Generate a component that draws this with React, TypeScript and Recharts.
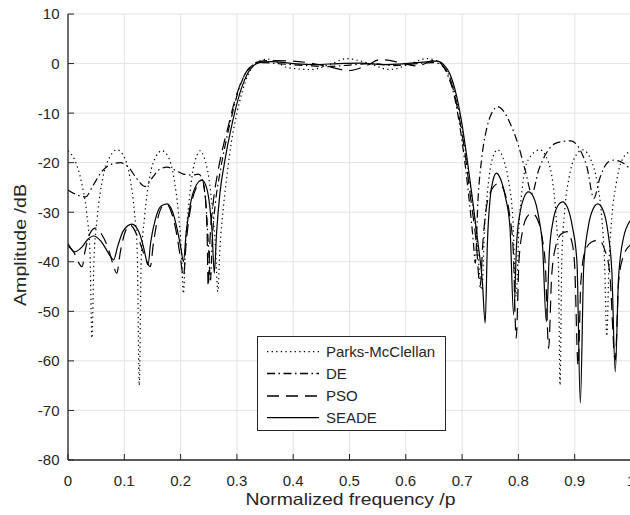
import React from 'react';
import { LineChart, Line, XAxis, YAxis, CartesianGrid, Legend } from 'recharts';

const freqTicks = [0, 0.1, 0.2, 0.3, 0.4, 0.5, 0.6, 0.7, 0.8, 0.9, 1];
const ampTicks = [-80, -70, -60, -50, -40, -30, -20, -10, 0, 10];

// [normalized frequency, amplitude dB]
const parksMcClellan: [number, number][] = [
  [0, -17.6], [0.012, -19.5], [0.024, -24], [0.033, -30], [0.039, -38], [0.0425, -55.4],
  [0.046, -40], [0.052, -31], [0.062, -23], [0.075, -18.7], [0.087, -17.4], [0.099, -18.7],
  [0.11, -23], [0.118, -30], [0.123, -38], [0.1266, -64.9], [0.13, -40], [0.136, -31],
  [0.145, -23], [0.156, -18.8], [0.167, -17.6], [0.178, -18.8], [0.188, -23], [0.196, -30],
  [0.201, -37], [0.205, -46.4], [0.209, -36], [0.215, -28], [0.222, -21.5], [0.229, -18.5],
  [0.235, -17.6], [0.242, -19], [0.25, -23], [0.257, -30], [0.262, -37], [0.266, -46],
  [0.27, -37], [0.276, -29], [0.283, -22], [0.29, -16], [0.3, -10], [0.31, -5.5],
  [0.32, -2.2], [0.33, -0.3], [0.34, 0.5], [0.355, 0.9], [0.37, 0.3], [0.39, -0.8],
  [0.43, -1.2], [0.465, -0.2], [0.495, 1.0], [0.53, 0.2], [0.572, -1.2], [0.605, -0.2],
  [0.637, 1.0], [0.655, 0.6], [0.665, -0.3], [0.675, -2], [0.685, -5], [0.695, -10],
  [0.705, -17], [0.715, -25], [0.725, -34], [0.735, -45.7], [0.74, -33], [0.745, -26],
  [0.752, -20], [0.763, -17.4], [0.774, -19.5], [0.783, -24], [0.79, -31], [0.796, -47],
  [0.801, -33], [0.807, -25], [0.817, -19.5], [0.838, -17.4], [0.852, -19.5], [0.861, -24],
  [0.867, -31], [0.871, -40], [0.874, -64.9], [0.877, -40], [0.882, -30], [0.89, -23],
  [0.9, -19], [0.914, -17.4], [0.929, -19.5], [0.94, -24], [0.948, -31], [0.953, -40],
  [0.957, -55], [0.961, -40], [0.966, -31], [0.974, -24], [0.984, -19.5], [1, -17.6],
];

const de: [number, number][] = [
  [0, -25.5], [0.012, -26.3], [0.031, -26.9], [0.045, -24.5], [0.06, -21.8], [0.075, -20.4],
  [0.093, -20.0], [0.108, -21], [0.122, -23.2], [0.137, -24.8], [0.15, -23], [0.163, -21.3],
  [0.176, -20.9], [0.19, -21.5], [0.205, -22.3], [0.22, -22.5], [0.232, -22.3], [0.24, -24],
  [0.246, -30], [0.25, -38], [0.253, -44], [0.256, -36], [0.262, -28], [0.27, -22],
  [0.28, -16], [0.29, -11], [0.3, -6.5], [0.31, -3.2], [0.32, -1.2], [0.33, -0.2],
  [0.345, 0.2], [0.37, 0], [0.42, -0.4], [0.46, -0.6], [0.5, -0.3], [0.54, 0],
  [0.58, -0.4], [0.62, 0], [0.65, 0.2], [0.665, -0.5], [0.675, -2.5], [0.685, -6],
  [0.695, -12], [0.705, -20], [0.713, -28], [0.72, -36], [0.7234, -40.3], [0.728, -28],
  [0.735, -19], [0.745, -12.5], [0.755, -9.5], [0.763, -8.7], [0.773, -9.5], [0.785, -12],
  [0.8, -16.5], [0.812, -21.5], [0.824, -26.2], [0.836, -21.5], [0.85, -18], [0.868, -16],
  [0.893, -15.6], [0.91, -17.5], [0.922, -21], [0.934, -27.2], [0.945, -23], [0.958, -20],
  [0.969, -19.5], [0.985, -20], [1, -21.5],
];

const pso: [number, number][] = [
  [0, -36.8], [0.01, -38], [0.018, -40], [0.025, -41], [0.03, -38], [0.038, -34.5],
  [0.0485, -33.2], [0.06, -34.5], [0.072, -37.5], [0.08, -40.5], [0.0866, -42.3], [0.093, -38],
  [0.1, -34.5], [0.1106, -32.6], [0.122, -34.5], [0.132, -37.5], [0.14, -40], [0.146, -41],
  [0.152, -36], [0.16, -31], [0.168, -28.8], [0.176, -28.5], [0.185, -30.5], [0.194, -35],
  [0.2, -39.5], [0.205, -43], [0.21, -36], [0.218, -29], [0.228, -25], [0.238, -23.5],
  [0.243, -26], [0.247, -34], [0.249, -45], [0.252, -36], [0.258, -28], [0.266, -22],
  [0.275, -17], [0.285, -12.5], [0.295, -8], [0.305, -4.5], [0.315, -2], [0.325, -0.5],
  [0.34, 0.4], [0.36, 0.6], [0.4, 0.5], [0.45, -0.3], [0.5, -1.4], [0.53, -0.4],
  [0.555, 0.8], [0.59, 0.2], [0.62, -0.5], [0.65, 0.6], [0.665, -0.3], [0.675, -2],
  [0.685, -5.5], [0.695, -11], [0.705, -18], [0.715, -27], [0.725, -36], [0.732, -45],
  [0.737, -36], [0.742, -30], [0.75, -26], [0.765, -24.2], [0.777, -26.5], [0.785, -31],
  [0.791, -38], [0.796, -55.4], [0.801, -40], [0.807, -34], [0.815, -31], [0.824, -30.2],
  [0.834, -31.5], [0.842, -35], [0.848, -41], [0.8537, -57.5], [0.859, -43], [0.866, -37],
  [0.875, -34.5], [0.886, -33.9], [0.895, -36], [0.9, -41], [0.906, -61], [0.911, -44],
  [0.918, -38], [0.93, -36], [0.9425, -35.6], [0.953, -37.5], [0.962, -42], [0.972, -59.8],
  [0.978, -44], [0.986, -39], [1, -36.5],
];

const seade: [number, number][] = [
  [0, -36.3], [0.012, -38], [0.025, -37], [0.035, -35.5], [0.0455, -34.8], [0.058, -35.8],
  [0.068, -37.5], [0.076, -39], [0.081, -39.6], [0.088, -37], [0.098, -33.8], [0.1137, -32.4],
  [0.126, -34], [0.134, -37], [0.139, -39.5], [0.142, -40.6], [0.147, -36], [0.155, -31.5],
  [0.165, -28.8], [0.176, -28.3], [0.186, -30], [0.195, -34], [0.201, -37.5], [0.205, -40],
  [0.21, -34], [0.218, -28], [0.228, -24.5], [0.238, -23.5], [0.246, -25], [0.252, -29],
  [0.256, -34], [0.2598, -42.3], [0.264, -34], [0.27, -26], [0.278, -20], [0.288, -14],
  [0.298, -9], [0.308, -5], [0.318, -2.2], [0.328, -0.6], [0.34, 0.2], [0.36, 0.4],
  [0.4, 0], [0.44, -0.2], [0.48, 0], [0.52, 0.1], [0.56, -0.2], [0.6, 0],
  [0.64, 0.4], [0.655, 0.5], [0.668, -0.3], [0.678, -2], [0.688, -5.5], [0.698, -11],
  [0.708, -18.5], [0.718, -27], [0.728, -36], [0.736, -44], [0.741, -52.4], [0.745, -36],
  [0.75, -27], [0.755, -23.5], [0.761, -22.1], [0.769, -23.5], [0.777, -27], [0.785, -33],
  [0.7915, -50.7], [0.797, -36], [0.803, -30], [0.81, -27], [0.818, -25.9], [0.827, -27],
  [0.836, -31], [0.843, -37], [0.8496, -52.1], [0.855, -38], [0.862, -31.5], [0.87, -28.7],
  [0.8785, -27.9], [0.887, -29], [0.896, -33], [0.904, -40], [0.91, -68.5], [0.916, -41],
  [0.924, -33], [0.932, -29.5], [0.941, -28.3], [0.95, -29.5], [0.959, -34], [0.966, -42],
  [0.972, -62.2], [0.978, -43], [0.987, -35], [1, -31.5],
];

const toPoints = (arr: [number, number][]) => arr.map(([f, v]) => ({ f, v }));

const series = [
  { name: 'Parks-McClellan', data: toPoints(parksMcClellan), dash: '1.3 3.3' },
  { name: 'DE', data: toPoints(de), dash: '8 3.5 1.5 3.5' },
  { name: 'PSO', data: toPoints(pso), dash: '12 7' },
  { name: 'SEADE', data: toPoints(seade), dash: undefined as string | undefined },
];

const FONT = '"Liberation Sans", Arial, Helvetica, sans-serif';
const TEXT = '#262626';
const AXIS = '#262626';

const XTick = (props: any) => {
  const { x, y, payload } = props;
  return (
    <g>
      <line x1={x} x2={x} y1={y} y2={y - 6} stroke={AXIS} strokeWidth={1} />
      <text x={x} y={y + 15.5} dy="0.71em" textAnchor="middle" fontFamily={FONT} fontSize={15} fill={TEXT}>
        {payload.value}
      </text>
    </g>
  );
};

const YTick = (props: any) => {
  const { x, y, payload } = props;
  return (
    <g>
      <line x1={x} x2={x + 6} y1={y} y2={y} stroke={AXIS} strokeWidth={1} />
      <text x={x - 8.5} y={y} dy="0.36em" textAnchor="end" fontFamily={FONT} fontSize={15} fill={TEXT}>
        {payload.value}
      </text>
    </g>
  );
};

const XLabel = (props: any) => {
  const vb = props.viewBox || { x: 68, y: 460, width: 563, height: 55 };
  const cx = vb.x + vb.width / 2 + 1;
  return (
    <text x={cx} y={505} textAnchor="middle" fontFamily={FONT} fontSize={16.5} fill={TEXT}
      textLength={210} lengthAdjust="spacingAndGlyphs">
      Normalized frequency /p
    </text>
  );
};

const YLabel = () => {
  const cx = 26;
  const cy = 245;
  return (
    <text x={0} y={0} transform={`translate(${cx},${cy}) rotate(-90)`} textAnchor="middle"
      fontFamily={FONT} fontSize={16.5} fill={TEXT} textLength={122} lengthAdjust="spacingAndGlyphs">
      Amplitude /dB
    </text>
  );
};

const renderLegend = () => {
  const rows = [15.7, 37.5, 60, 81.7];
  return (
    <svg width={189} height={95} style={{ display: 'block' }}>
      <rect x={0.5} y={0.5} width={188} height={94} fill="#fff" stroke={AXIS} strokeWidth={1} />
      {series.map((s, i) => (
        <g key={s.name}>
          <line x1={10} x2={62} y1={rows[i]} y2={rows[i]} stroke="#000" strokeWidth={1.3}
            strokeDasharray={s.dash} />
          <text x={69} y={rows[i]} dy="0.36em" fontFamily={FONT} fontSize={15} fill={TEXT}>
            {s.name}
          </text>
        </g>
      ))}
    </svg>
  );
};

export default function App() {
  return (
    <div style={{ position: 'fixed', left: 0, top: 0, width: 630, height: 515, overflow: 'hidden', background: '#fff' }}>
      <LineChart width={640} height={515} margin={{ top: 14, right: 9, bottom: 0, left: 0 }}>
        <CartesianGrid stroke="#e3e3e3" strokeWidth={1} />
        <XAxis
          dataKey="f"
          type="number"
          domain={[0, 1]}
          ticks={freqTicks}
          allowDataOverflow
          height={55}
          tickSize={0}
          tickMargin={0}
          tickLine={false}
          axisLine={{ stroke: AXIS, strokeWidth: 1.3 }}
          tick={<XTick />}
          interval={0}
          label={<XLabel />}
        />
        <YAxis
          type="number"
          domain={[-80, 10]}
          ticks={ampTicks}
          allowDataOverflow
          width={68}
          tickSize={0}
          tickMargin={0}
          tickLine={false}
          axisLine={{ stroke: AXIS, strokeWidth: 1.3 }}
          tick={<YTick />}
          interval={0}
          label={<YLabel />}
        />
        <Legend
          layout="horizontal"
          verticalAlign="middle"
          align="center"
          wrapperStyle={{ position: 'absolute', left: 257, top: 336, width: 189, height: 95 }}
          content={renderLegend}
        />
        {series.map((s) => (
          <Line
            key={s.name}
            data={s.data}
            dataKey="v"
            name={s.name}
            type="monotone"
            stroke="#000"
            strokeWidth={1.2}
            strokeDasharray={s.dash}
            dot={false}
            activeDot={false}
            isAnimationActive={false}
            legendType="line"
          />
        ))}
      </LineChart>
    </div>
  );
}
